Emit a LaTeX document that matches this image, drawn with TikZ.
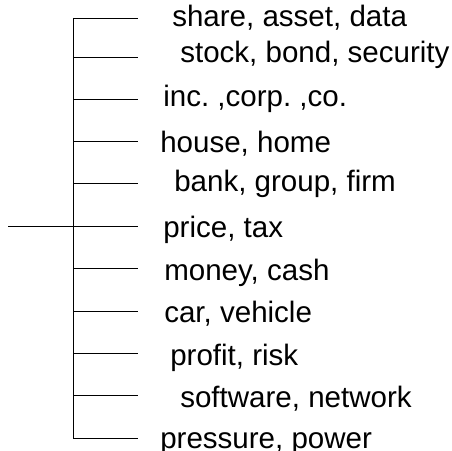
\documentclass[tikz,border=0pt]{standalone}
\usepackage{fontspec}
\setmainfont{Liberation Sans}
\usetikzlibrary{positioning}
\frenchspacing
\tikzstyle{word} = [anchor=base west, inner sep=0pt, font=\fontsize{21}{25}\selectfont]
\tikzstyle{branch} = [line width=0.6pt, black]
\begin{document}
\begin{tikzpicture}[x=0.025cm, y=-0.025cm]
    \useasboundingbox (0,0) rectangle (452,451);
    % trunk and root
    \coordinate (root) at (8,226);
    \coordinate (hub) at (73,226);
    \coordinate (top) at (73,18);
    \coordinate (bottom) at (73,438);
    \draw[branch] (root) -- (hub);
    \draw[branch] (top) -- (bottom);
    % branches
    \coordinate (e1) at (138,18);
    \coordinate (e2) at (138,57);
    \coordinate (e3) at (138,99);
    \coordinate (e4) at (138,141);
    \coordinate (e5) at (138,183);
    \coordinate (e6) at (138,226);
    \coordinate (e7) at (138,268);
    \coordinate (e8) at (138,311);
    \coordinate (e9) at (138,353);
    \coordinate (e10) at (138,395);
    \coordinate (e11) at (138,438);
    \draw[branch] (top) -- (e1);
    \draw[branch] (73,57) -- (e2);
    \draw[branch] (73,99) -- (e3);
    \draw[branch] (73,141) -- (e4);
    \draw[branch] (73,183) -- (e5);
    \draw[branch] (hub) -- (e6);
    \draw[branch] (73,268) -- (e7);
    \draw[branch] (73,311) -- (e8);
    \draw[branch] (73,353) -- (e9);
    \draw[branch] (73,395) -- (e10);
    \draw[branch] (bottom) -- (e11);
    % words
    \node[word] (share) at (172,27) {share, asset, data};
    \node[word] (stock) at (180,63) {stock, bond, security};
    \node[word] (inc) at (163,107) {inc. ,corp. ,co.};
    \node[word] (house) at (160,153) {house, home};
    \node[word] (bank) at (174,192) {bank, group, firm};
    \node[word] (price) at (163,238) {price, tax};
    \node[word] (money) at (164,280) {money, cash};
    \node[word] (car) at (164,322) {car, vehicle};
    \node[word] (profit) at (170,365) {profit, risk};
    \node[word] (software) at (180,407) {software, network};
    \node[word] (pressure) at (160,448) {pressure, power};
\end{tikzpicture}
\end{document}
